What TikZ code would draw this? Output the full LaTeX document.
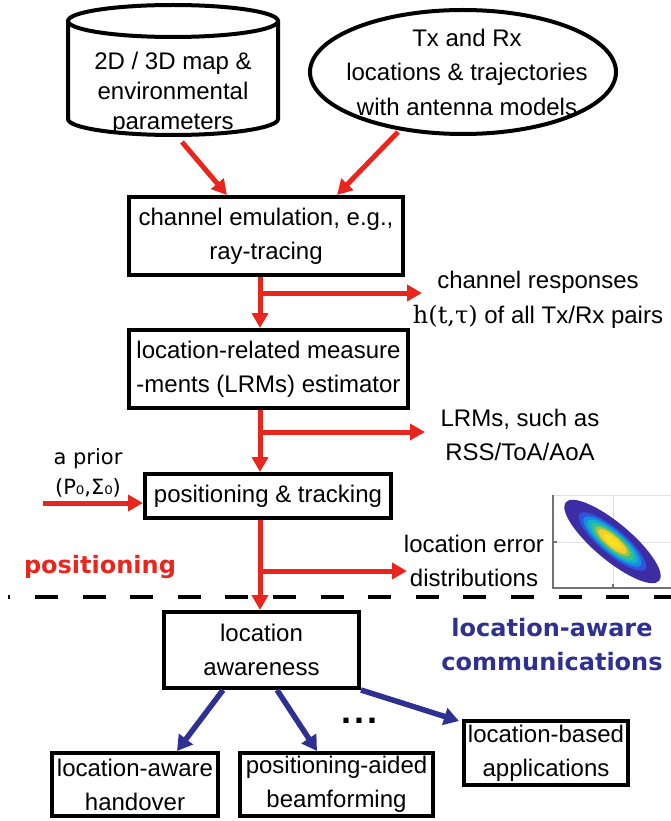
\documentclass[tikz,border=0pt]{standalone}
\usepackage{fontspec}
\setmainfont{Liberation Sans}
\newfontfamily\dejavu{DejaVu Sans}
\newfontfamily\dejavuserif{DejaVu Serif}
\usetikzlibrary{arrows.meta,shapes.geometric}

\definecolor{arrred}{RGB}{232,38,30}
\definecolor{navy}{RGB}{46,49,146}
\definecolor{pa}{RGB}{60,45,165}
\definecolor{pb}{RGB}{45,85,220}
\definecolor{pc}{RGB}{25,140,225}
\definecolor{pd}{RGB}{20,180,200}
\definecolor{pe}{RGB}{60,190,140}
\definecolor{pf}{RGB}{160,195,70}
\definecolor{pg}{RGB}{245,205,45}
\definecolor{ph}{RGB}{250,225,30}

\begin{document}
\begin{tikzpicture}[x=1pt,y=-1pt,
  txt/.style={align=center, inner sep=0pt, font=\fontsize{24}{34}\selectfont},
  box/.style={txt, draw, line width=4pt},
  redarr/.style={draw=arrred, line width=5pt, -{Triangle[length=15pt,width=16pt]}},
  bluearr/.style={draw=navy, line width=5.5pt, -{Triangle[length=15pt,width=17pt]}},
  boldlabel/.style={align=center, inner sep=0pt, font=\dejavu\bfseries\fontsize{24}{34}\selectfont},
  ]
\useasboundingbox (0,0) rectangle (671,821);

% --- inputs: map database (cylinder) and Tx/Rx description (ellipse)
\draw[line width=4pt] (68,21) -- (68,119)
  arc[start angle=180, end angle=0, x radius=105, y radius=16] -- (278,21);
\draw[line width=4pt] (173,21) ellipse [x radius=105, y radius=16];
\node[txt, font=\fontsize{24}{30}\selectfont] (map) at (173,93)
  {2D / 3D map \&\\environmental\\parameters};

\node[draw, ellipse, line width=4pt, minimum width=306pt, minimum height=124pt,
  inner sep=0pt] (txrxshape) at (463,72) {};
\node[txt, font=\fontsize{24}{34.5}\selectfont] (txrx) at (467,72)
  {Tx and Rx\\locations \& trajectories\\with antenna models};

% --- processing chain
\node[box, minimum width=274pt, minimum height=78pt] (chan) at (266,236)
  {channel emulation, e.g.,\\ray-tracing};
\node[box, minimum width=279pt, minimum height=78pt] (lrm) at (268.5,369)
  {location-related measure\\-ments (LRMs) estimator};
\node[box, minimum width=246pt, minimum height=44pt] (pos) at (268,496)
  {positioning \& tracking};
\node[box, minimum width=195pt, minimum height=76pt] (aware) at (261.5,650)
  {location\\awareness};

% --- applications
\node[box, minimum width=166pt, minimum height=63pt] (hand) at (135,784.5)
  {location-aware\\handover};
\node[box, minimum width=193pt, minimum height=63pt] (beam) at (336.5,784.5)
  {positioning-aided\\beamforming};
\node[box, minimum width=164pt, minimum height=64pt] (apps) at (546,753)
  {location-based\\applications};
\node[inner sep=0pt, font=\fontsize{36}{36}\bfseries\selectfont] (dots) at (359.5,721)
  {.\hspace{3pt}.\hspace{3pt}.};

% --- side outputs
\node[txt, font=\fontsize{24}{35}\selectfont] (resp) at (538,300)
  {channel responses\\{\dejavuserif h(t,τ)} of all Tx/Rx pairs};
\node[txt] (lrmout) at (520,435) {LRMs, such as\\RSS/ToA/AoA};
\node[txt] (errout) at (474,561) {location error\\distributions};
\node[align=center, inner sep=0pt, font=\dejavu\fontsize{21}{30}\selectfont]
  (prior) at (88,473) {a prior\\(P₀,Σ₀)};

% --- domain labels and separator
\node[boldlabel, text=arrred] (poslabel) at (100,567) {positioning};
\node[boldlabel, text=navy] (comlabel) at (552,645) {location-aware\\communications};
\draw[line width=4pt, dash pattern=on 23pt off 24.6pt, dash phase=20.6pt]
  (8,597) -- (671,597);

% --- error distribution plot
\draw[black!12, line width=1pt] (553,495) -- (671,495)
  (613,495) -- (613,588) (553,542) -- (671,542);
\draw[black!55, line width=1.3pt] (553,495) -- (553,588) -- (671,588)
  (553,542) -- (557,542) (613,588) -- (613,584);
\begin{scope}[shift={(612.5,541.5)}, rotate=-40]
  \fill[pa] (0,0) ellipse [x radius=61, y radius=18.5];
  \fill[pb] (0,0) ellipse [x radius=43, y radius=12.5];
  \fill[pc] (0,0) ellipse [x radius=37, y radius=10.8];
  \fill[pd] (0,0) ellipse [x radius=32, y radius=9.3];
  \fill[pe] (0,0) ellipse [x radius=27, y radius=7.9];
  \fill[pf] (0,0) ellipse [x radius=22, y radius=6.6];
  \fill[pg] (0,0) ellipse [x radius=18, y radius=5.4];
  \fill[ph] (0,0) ellipse [x radius=11, y radius=3.4];
\end{scope}

% --- red connectors
\coordinate (sp) at (260,0);
\coordinate (m1) at (182,142);
\coordinate (m2) at (398,132);
\draw[redarr] (m1) -- ([xshift=-39pt]chan.north);
\draw[redarr] (m2) -- ([xshift=71pt]chan.north);

\coordinate (j1) at (260,293);
\coordinate (e1) at (422,293);
\coordinate (j2) at (260,432);
\coordinate (e2) at (425,432);
\coordinate (j3) at (260,571);
\coordinate (e3) at (407,571);
\coordinate (p0) at (43,503);

\draw[redarr] (chan.south -| sp) -- (lrm.north -| sp);
\draw[redarr] (j1) -- (e1);
\draw[redarr] (lrm.south -| sp) -- (pos.north -| sp);
\draw[redarr] (j2) -- (e2);
\draw[redarr] (pos.south -| sp) -- (aware.north -| sp);
\draw[redarr] (j3) -- (e3);
\draw[redarr] (p0) -- (pos.west |- p0);

% --- blue connectors
\draw[bluearr] ([xshift=-38.5pt]aware.south) -- ([xshift=42pt]hand.north);
\draw[bluearr] ([xshift=15.5pt]aware.south) -- ([xshift=-19.5pt]beam.north);
\draw[bluearr] (aware.south east) -- ([xshift=-3pt,yshift=-2pt]apps.north west);
\end{tikzpicture}
\end{document}
